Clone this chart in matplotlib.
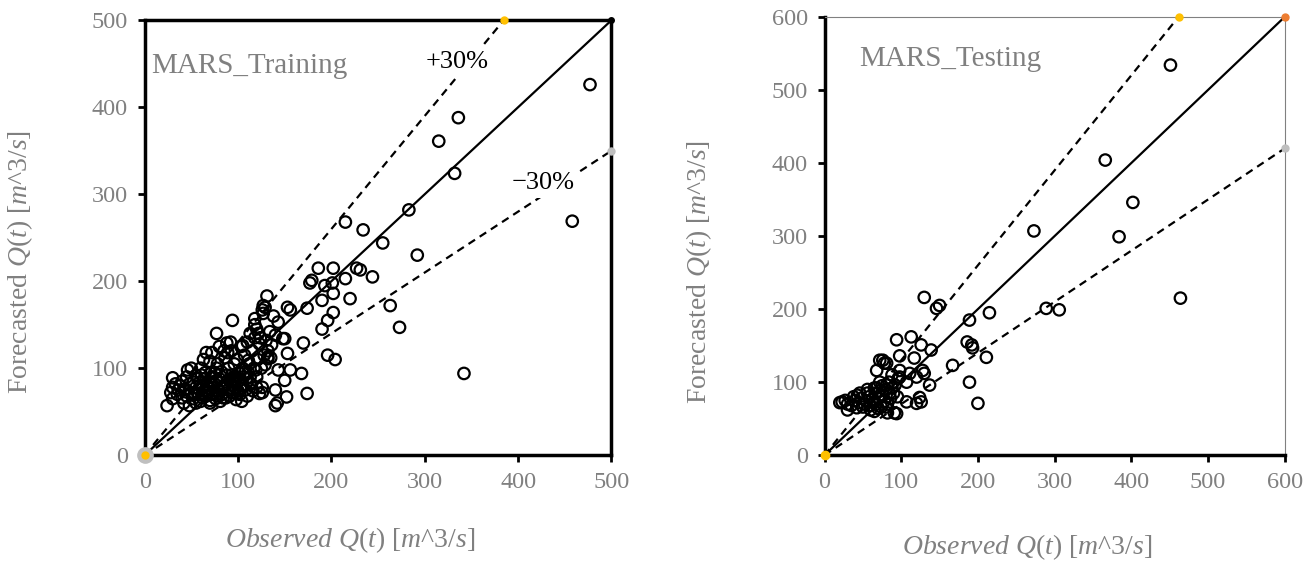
import numpy as np
import matplotlib.pyplot as plt

plt.rcParams['font.family'] = ['Liberation Serif', 'DejaVu Serif']
plt.rcParams['mathtext.fontset'] = 'custom'
plt.rcParams['mathtext.it'] = 'Liberation Serif:italic'
plt.rcParams['mathtext.rm'] = 'Liberation Serif'

# training (observed, forecasted)
train_obs = [477, 458, 336, 315, 332, 283, 342, 292, 263, 273, 255, 234, 215, 244, 231, 220,
             186, 202, 227, 179, 193, 215, 202, 190, 202, 174, 196, 190, 170, 196, 204, 177,
             201, 150, 153, 132, 143, 156, 168, 150, 174, 140, 152, 140, 126, 131, 126, 129,
             153, 156, 94, 77, 113, 105, 111, 127, 127, 72, 89, 88, 61, 77, 66, 84,
             102, 113, 123, 99, 70, 24, 30, 30, 46, 48, 143, 118, 148, 142, 126, 132,
             118, 120, 122, 124,
             35, 38, 40, 42, 45, 48, 50, 52, 55, 57, 58, 60, 62, 64, 65, 66,
             68, 70, 70, 72, 73, 75, 76, 78, 79, 80, 81, 82, 83, 85, 86, 87,
             88, 89, 90, 91, 92, 93, 94, 95, 96, 97, 98, 99, 100, 101, 102, 103,
             104, 105, 106, 107, 108, 110, 111, 112, 114, 115, 117, 118, 120, 121, 123, 125,
             128, 130, 132, 134, 136, 138, 140, 28, 30, 33, 42, 45, 50, 55, 60, 63,
             66, 70, 75, 80, 85, 92, 62, 68, 74, 84, 94, 100, 110, 116, 120, 55,
             40, 36, 52, 58, 64, 72, 78, 88, 96, 104, 108,
             44, 54, 67, 77, 93, 109, 119, 129, 135, 59, 71, 82, 97, 103, 113]
train_pred = [426, 269, 388, 361, 324, 282, 94, 230, 172, 147, 244, 259, 268, 205, 213, 180,
              215, 215, 215, 201, 195, 203, 186, 178, 164, 169, 155, 145, 129, 115, 110, 198,
              198, 134, 117, 111, 98, 98, 94, 86, 71, 75, 67, 57, 78, 183, 167, 170,
              170, 167, 155, 140, 140, 126, 109, 172, 163, 118, 118, 129, 92, 100, 75, 78,
              94, 83, 71, 71, 63, 57, 89, 78, 98, 57, 153, 157, 134, 60, 72, 113,
              150, 145, 140, 135,
              70, 80, 66, 75, 68, 82, 72, 65, 78, 88, 70, 62, 80, 74, 95, 68,
              85, 60, 77, 90, 70, 82, 65, 105, 74, 88, 62, 96, 70, 80, 112, 66,
              92, 75, 100, 68, 84, 120, 72, 90, 105, 78, 64, 110, 85, 95, 70, 125,
              80, 100, 90, 115, 75, 130, 95, 105, 82, 120, 100, 135, 90, 110, 128, 100,
              115, 132, 120, 142, 127, 160, 138, 72, 65, 82, 60, 90, 100, 92, 100, 110,
              118, 108, 95, 125, 120, 130, 66, 72, 78, 66, 80, 74, 68, 74, 78, 60,
              85, 75, 84, 76, 88, 82, 68, 84, 88, 62, 96,
              76, 70, 80, 86, 92, 88, 98, 104, 112, 84, 94, 78, 86, 76, 90]

# testing (observed, forecasted)
test_obs = [451, 366, 402, 384, 273, 464, 289, 306, 130, 146, 150, 215, 189, 186, 192, 193,
            211, 189, 200, 167, 94, 113, 126, 139, 98, 76, 81, 68, 117, 128, 130, 111,
            137, 124, 126, 107, 91, 120, 23, 30, 82, 98, 98, 107, 68, 81, 78, 72,
            43, 56, 65, 85, 94, 120,
            30, 35, 40, 42, 45, 48, 50, 52, 55, 58, 60, 62, 64, 66, 68, 70,
            72, 74, 75, 76, 78, 80, 82, 84, 86, 88, 90, 92, 95, 96, 60, 70,
            80, 56, 46, 38, 88, 72, 65, 20, 27]
test_pred = [534, 404, 346, 299, 307, 215, 201, 199, 216, 201, 205, 195, 185, 155, 151, 147,
             134, 100, 71, 123, 158, 162, 151, 144, 136, 130, 126, 116, 133, 116, 112, 112,
             96, 79, 73, 73, 58, 71, 73, 62, 58, 116, 107, 100, 92, 96, 126, 130,
             82, 85, 92, 85, 57, 107,
             70, 68, 75, 65, 72, 78, 66, 70, 74, 80, 68, 76, 72, 84, 70, 78,
             88, 66, 95, 82, 74, 90, 70, 100, 78, 92, 85, 96, 80, 105, 62, 64,
             66, 90, 85, 80, 110, 100, 60, 72, 75]

train_max = 500
test_max = 600
band = 0.30

grey = '#808080'


def draw_panel(ax, obs, pred, vmax, title, title_xy, lab_pos, heavy_box):
    ax.scatter(obs, pred, s=68, facecolors='none', edgecolors='black',
               linewidths=1.6, zorder=3)
    upper_x = vmax / (1 + band)
    ax.plot([0, vmax], [0, vmax], color='black', lw=1.6, zorder=2)
    ax.plot([0, upper_x], [0, vmax], color='black', lw=1.6, ls=(0, (3.5, 2.5)), zorder=2)
    ax.plot([0, vmax], [0, vmax * (1 - band)], color='black', lw=1.6,
            ls=(0, (3.5, 2.5)), zorder=2)
    # end points of the helper lines
    if heavy_box:
        ax.plot(0, 0, 'o', ms=11, color='#bfbfbf', clip_on=False, zorder=5)
        ax.plot(0, 0, 'o', ms=5, color='#ffc000', clip_on=False, zorder=6)
        ax.plot(vmax, vmax, 'o', ms=4, color='black', clip_on=False, zorder=6)
    else:
        ax.plot(0, 0, 'o', ms=6, color='#ffc000', clip_on=False, zorder=6)
        ax.plot(vmax, vmax, 'o', ms=5, color='#ed7d31', clip_on=False, zorder=6)
    ax.plot(upper_x, vmax, 'o', ms=5, color='#ffc000', clip_on=False, zorder=6)
    ax.plot(vmax, vmax * (1 - band), 'o', ms=5, color='#bfbfbf', clip_on=False, zorder=6)

    ax.set_xlim(0, vmax)
    ax.set_ylim(0, vmax)
    ax.set_xticks(np.arange(0, vmax + 1, 100))
    ax.set_yticks(np.arange(0, vmax + 1, 100))
    ax.tick_params(direction='out', length=5, width=2, labelsize=17.5,
                   labelcolor=grey, pad=7)
    ax.text(title_xy[0] * vmax, title_xy[1] * vmax, title, fontsize=21, color=grey)
    if lab_pos is not None:
        for (tx, ty), s in zip(lab_pos, ['+30%', '\u221230%']):
            ax.text(tx, ty, s, fontsize=19, ha='center', va='center', zorder=4,
                    bbox=dict(facecolor='white', edgecolor='none', pad=3))
    for side in ['left', 'bottom']:
        ax.spines[side].set_linewidth(2.5)
        ax.spines[side].set_color('black')
    for side in ['top', 'right']:
        if heavy_box:
            ax.spines[side].set_linewidth(2.5)
            ax.spines[side].set_color('black')
        else:
            ax.spines[side].set_linewidth(0.8)
            ax.spines[side].set_color('#808080')
    ax.set_xlabel('$Observed$ $Q(t)$ [$m$^3/$s$]', fontsize=20, color=grey)
    ax.set_ylabel('Forecasted $Q(t)$ [$m$^3/$s$]', fontsize=20, color=grey)


fig = plt.figure(figsize=(13.15, 5.62), dpi=100)
ax1 = fig.add_axes([0.110, 0.190, 0.355, 0.774])
ax2 = fig.add_axes([0.627, 0.190, 0.350, 0.780])

draw_panel(ax1, train_obs, train_pred, train_max, 'MARS_Training', (0.015, 0.878),
           [(335, 452), (427, 313)], True)
draw_panel(ax2, test_obs, test_pred, test_max, 'MARS_Testing', (0.076, 0.888),
           None, False)

ax1.xaxis.set_label_coords(0.44, -0.16)
ax1.yaxis.set_label_coords(-0.235, 0.444)
ax2.xaxis.set_label_coords(0.441, -0.176)
ax2.yaxis.set_label_coords(-0.24, 0.418)

fig.savefig('out.png', dpi=100)
